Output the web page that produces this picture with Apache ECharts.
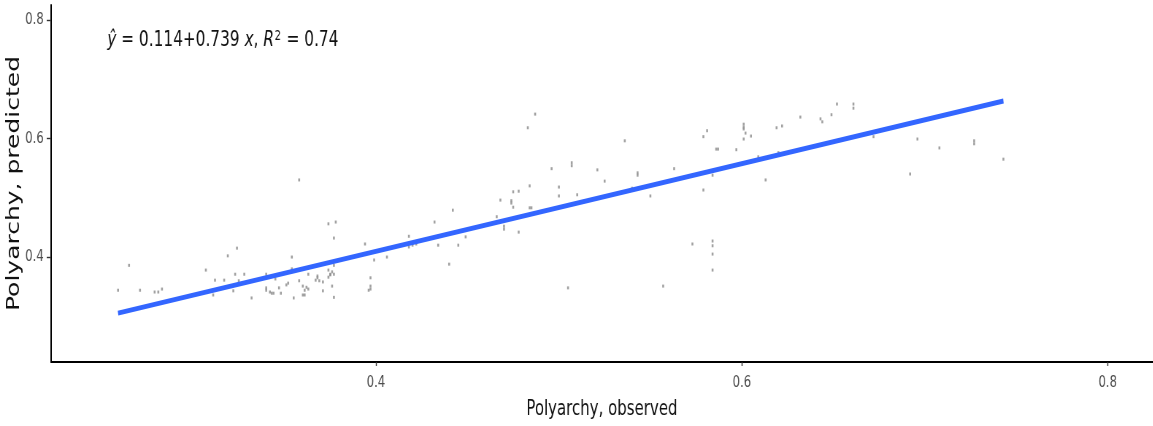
<!DOCTYPE html>
<html>
<head>
<meta charset="utf-8">
<title>Polyarchy, observed vs predicted</title>
<script src="https://cdn.jsdelivr.net/npm/echarts/dist/echarts.min.js"></script>
<style>
  html, body { margin: 0; padding: 0; background: #ffffff; overflow: hidden; }
  #frame { width: 1153px; height: 426px; overflow: hidden; }
  /* the plot is laid out wide and then condensed horizontally */
  #chart { width: 1579px; height: 426px; transform: scaleX(0.73); transform-origin: 0 0; }
</style>
</head>
<body>
<div id="frame"><div id="chart"></div></div>
<script>
// Observed polyarchy scores (x) and model predictions (y), one entry per case
const observed = [
  0.259, 0.265, 0.271, 0.279, 0.281, 0.283, 0.307, 0.311, 0.312, 0.317,
  0.319, 0.322, 0.323, 0.324, 0.325, 0.328, 0.332, 0.340, 0.340, 0.342,
  0.343, 0.344, 0.340, 0.345, 0.347, 0.348, 0.351, 0.352, 0.354, 0.354,
  0.355, 0.358, 0.358, 0.360, 0.361, 0.362, 0.360, 0.361, 0.363, 0.368,
  0.368, 0.367, 0.369, 0.371, 0.374, 0.375, 0.375, 0.376, 0.377, 0.374,
  0.377, 0.374, 0.378, 0.377, 0.371, 0.376, 0.377, 0.363, 0.394, 0.397,
  0.397, 0.397, 0.396, 0.399, 0.406, 0.418, 0.418, 0.420, 0.422, 0.432,
  0.434, 0.440, 0.442, 0.445, 0.449, 0.466, 0.468, 0.470, 0.470, 0.474,
  0.474, 0.475, 0.475, 0.478, 0.478, 0.483, 0.484, 0.484, 0.485, 0.487,
  0.496, 0.500, 0.500, 0.505, 0.507, 0.507, 0.510, 0.521, 0.525, 0.536,
  0.540, 0.543, 0.543, 0.550, 0.557, 0.563, 0.573, 0.579, 0.581, 0.579,
  0.584, 0.584, 0.584, 0.584, 0.584, 0.586, 0.587, 0.597, 0.601, 0.601,
  0.601, 0.601, 0.602, 0.605, 0.609, 0.613, 0.619, 0.620, 0.622, 0.632,
  0.643, 0.644, 0.649, 0.652, 0.661, 0.661, 0.672, 0.692, 0.696, 0.708,
  0.727, 0.727, 0.743
];
const predicted = [
  0.344, 0.386, 0.344, 0.341, 0.341, 0.346, 0.378, 0.336, 0.361, 0.361,
  0.402, 0.343, 0.371, 0.415, 0.360, 0.371, 0.331, 0.348, 0.344, 0.341,
  0.339, 0.339, 0.371, 0.363, 0.348, 0.339, 0.353, 0.356, 0.400, 0.380,
  0.331, 0.530, 0.360, 0.351, 0.344, 0.349, 0.336, 0.336, 0.371, 0.368,
  0.365, 0.361, 0.360, 0.358, 0.366, 0.370, 0.371, 0.375, 0.371, 0.378,
  0.386, 0.456, 0.459, 0.432, 0.343, 0.351, 0.332, 0.346, 0.422, 0.365,
  0.351, 0.346, 0.344, 0.395, 0.400, 0.435, 0.417, 0.420, 0.422, 0.459,
  0.420, 0.388, 0.479, 0.420, 0.434, 0.468, 0.496, 0.452, 0.447, 0.495,
  0.491, 0.484, 0.510, 0.511, 0.442, 0.618, 0.520, 0.483, 0.483, 0.641,
  0.549, 0.518, 0.503, 0.348, 0.559, 0.554, 0.505, 0.547, 0.528, 0.596,
  0.516, 0.542, 0.538, 0.503, 0.351, 0.549, 0.422, 0.603, 0.613, 0.513,
  0.538, 0.427, 0.419, 0.405, 0.378, 0.582, 0.582, 0.581, 0.624, 0.619,
  0.616, 0.599, 0.609, 0.604, 0.569, 0.530, 0.618, 0.576, 0.621, 0.636,
  0.633, 0.628, 0.640, 0.658, 0.658, 0.651, 0.603, 0.540, 0.599, 0.584,
  0.596, 0.591, 0.565
];

// Fitted linear model, as printed in the annotation
const intercept = 0.114;
const slope = 0.739;
const rSquared = 0.74;

// Axis tick labels
const xTicks = [0.4, 0.6, 0.8];
const yTicks = [0.4, 0.6, 0.8];

const xTitle = 'Polyarchy, observed';
const yTitle = 'Polyarchy, predicted';

const points = observed.map((v, i) => [v, predicted[i]]);
const xLo = Math.min(...observed);
const xHi = Math.max(...observed);
const fitLine = [[xLo, intercept + slope * xLo], [xHi, intercept + slope * xHi]];

const FONT = "'DejaVu Sans', sans-serif";

const chart = echarts.init(document.getElementById('chart'), null, { renderer: 'canvas' });

chart.setOption({
  animation: false,
  backgroundColor: '#ffffff',
  grid: {
    left: 70, right: 0, top: 5, bottom: 64,
    containLabel: false,
    outerBoundsMode: 'none'
  },
  xAxis: {
    type: 'value',
    min: 0.2224,
    max: 0.8246,
    name: xTitle,
    nameLocation: 'middle',
    nameGap: 37,
    nameMoveOverlap: false,
    nameTextStyle: { color: '#111111', fontSize: 20.5, fontFamily: FONT },
    axisLine: { show: true, onZero: false, lineStyle: { color: '#000000', width: 2 } },
    axisTick: { show: true, customValues: xTicks, length: 4, lineStyle: { color: '#333333', width: 1.4 } },
    axisLabel: {
      customValues: xTicks,
      formatter: v => String(v),
      color: '#4d4d4d', fontSize: 16, fontFamily: FONT, margin: 13
    },
    splitLine: { show: false }
  },
  yAxis: {
    type: 'value',
    min: 0.223,
    max: 0.825,
    name: yTitle,
    nameLocation: 'middle',
    nameGap: 38,
    nameMoveOverlap: false,
    nameTextStyle: { color: '#111111', fontSize: 25, fontFamily: FONT },
    axisLine: { show: true, onZero: false, lineStyle: { color: '#000000', width: 2 } },
    axisTick: { show: true, customValues: yTicks, length: 6, lineStyle: { color: '#333333', width: 1.4 } },
    axisLabel: {
      customValues: yTicks,
      formatter: v => String(v),
      color: '#4d4d4d', fontSize: 16, fontFamily: FONT, margin: 10
    },
    splitLine: { show: false }
  },
  graphic: [{
    type: 'text',
    left: 147,
    top: 29,
    style: {
      text: '{i|ŷ} = ' + intercept.toFixed(3) + '+' + slope.toFixed(3) + ' {i|x}, {i|R}{s|2} = ' + rSquared.toFixed(2),
      fill: '#111111',
      fontSize: 21,
      fontFamily: FONT,
      rich: {
        i: { fontStyle: 'italic', fontSize: 21, fontFamily: FONT, fill: '#111111' },
        s: { fontSize: 13.5, fontFamily: FONT, verticalAlign: 'top', fill: '#111111', padding: [0, 1, 9, 1] }
      }
    }
  }],
  series: [
    {
      type: 'scatter',
      data: points,
      symbol: 'rect',
      symbolSize: [2.6, 3],
      itemStyle: { color: '#8a8a8a' },
      z: 2,
      silent: true
    },
    {
      type: 'line',
      data: fitLine,
      showSymbol: false,
      symbol: 'none',
      lineStyle: { color: '#3366ff', width: 5 },
      z: 3,
      silent: true
    }
  ]
});
</script>
</body>
</html>
